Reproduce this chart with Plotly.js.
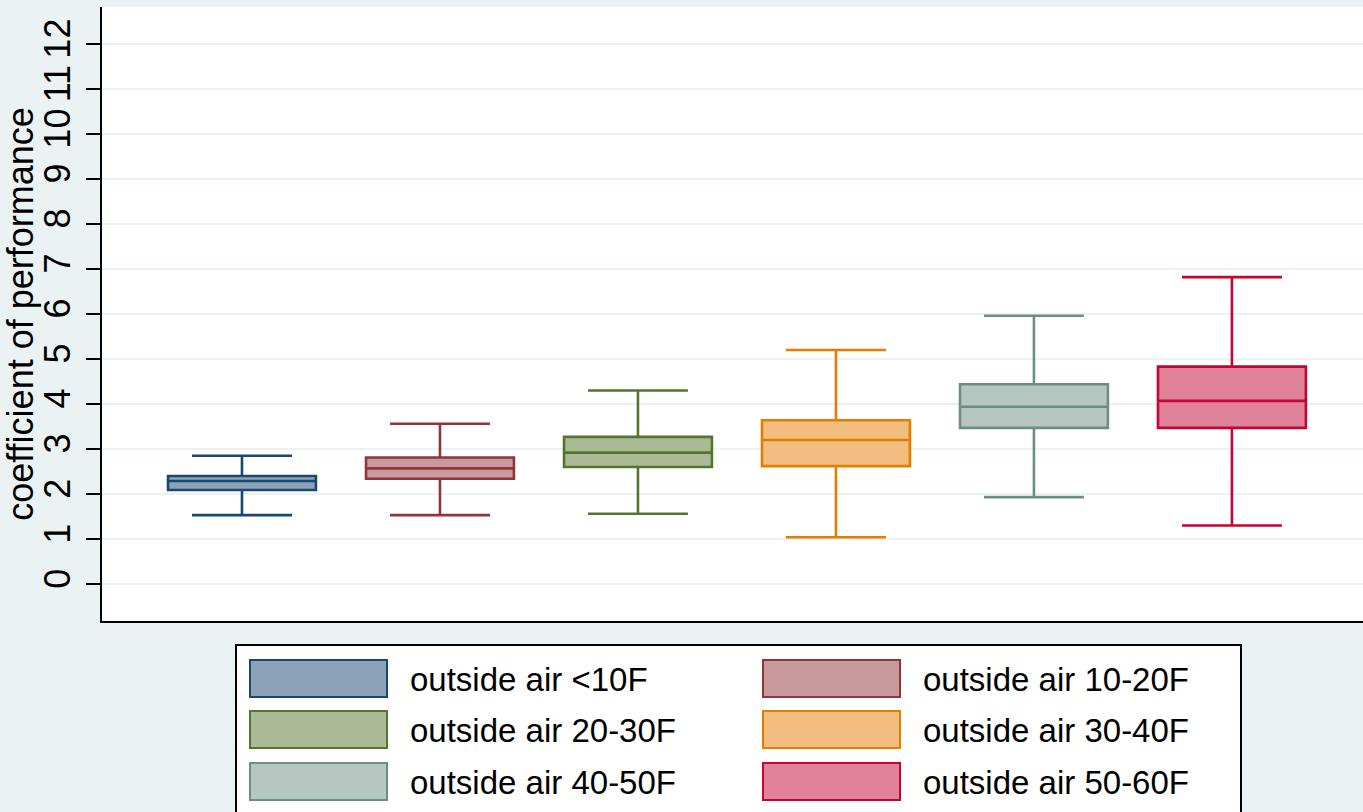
<!DOCTYPE html>
<html>
<head>
<meta charset="utf-8">
<script src="https://cdn.plot.ly/plotly-3.0.1.min.js"></script>
<style>html,body{margin:0;padding:0;background:#eaf2f3;}#chart{width:1363px;height:812px;}</style>
</head>
<body>
<div id="chart"></div>
<script>
// ---- data ----
const categories = ['outside air <10F', 'outside air 10-20F', 'outside air 20-30F',
                    'outside air 30-40F', 'outside air 40-50F', 'outside air 50-60F'];
const lowerWhisker = [1.53, 1.53, 1.56, 1.04, 1.93, 1.30];
const q1Values     = [2.09, 2.34, 2.60, 2.62, 3.47, 3.47];
const medianValues = [2.29, 2.57, 2.92, 3.20, 3.94, 4.07];
const q3Values     = [2.40, 2.81, 3.27, 3.64, 4.44, 4.83];
const upperWhisker = [2.85, 3.56, 4.30, 5.20, 5.96, 6.82];
const yTickValues  = [0,1,2,3,4,5,6,7,8,9,10,11,12];
const yTitle = 'coefficient of performance';

// ---- styles ----
const lineColors = ['#1a476f', '#90353b', '#55752f', '#e37e00', '#6e8e84', '#c10534'];
const fillColors = ['#8ca3b7', '#c89a9d', '#aaba97', '#f1be7f', '#b6c6c1', '#e08299'];
const FONT = 'Liberation Sans, Arial, sans-serif';

const W = 1363, H = 812;
const M = {l: 102, r: 0, t: 7, b: 191};
const plotW = W - M.l - M.r, plotH = H - M.t - M.b;
const px2x = p => (p - M.l) / plotW;
const px2y = p => (H - M.b - p) / plotH;

const traces = categories.map((name, i) => ({
  type: 'box',
  name: name,
  x: [i],
  q1: [q1Values[i]],
  median: [medianValues[i]],
  q3: [q3Values[i]],
  lowerfence: [lowerWhisker[i]],
  upperfence: [upperWhisker[i]],
  width: 0.747,
  whiskerwidth: 0.676,
  fillcolor: fillColors[i],
  line: {color: lineColors[i], width: 2.6},
  boxpoints: false,
  showlegend: false,
  hoverinfo: 'skip'
}));

// ---- custom legend (paper coordinates) ----
const shapes = [];
const annotations = [];
shapes.push({type: 'rect', xref: 'paper', yref: 'paper',
  x0: px2x(236), x1: px2x(1241), y0: px2y(645), y1: px2y(840),
  line: {color: '#000', width: 2}, fillcolor: '#ffffff', layer: 'above'});
const colSwatchX = [250, 763];
const colTextX = [408, 921];
const rowTop = [660, 711, 763];
const swH = 37, swW = 137;
categories.forEach((name, i) => {
  const col = i % 2, row = Math.floor(i / 2);
  const x0 = colSwatchX[col], y0 = rowTop[row];
  shapes.push({type: 'rect', xref: 'paper', yref: 'paper',
    x0: px2x(x0), x1: px2x(x0 + swW), y0: px2y(y0), y1: px2y(y0 + swH),
    line: {color: lineColors[i], width: 2}, fillcolor: fillColors[i], layer: 'above'});
  annotations.push({xref: 'paper', yref: 'paper', x: px2x(colTextX[col]), y: px2y(y0 + swH / 2 + 1),
    xanchor: 'left', yanchor: 'middle', text: name, showarrow: false,
    font: {family: FONT, size: 33, color: '#000'}});
});

const layout = {
  width: W, height: H,
  margin: M,
  paper_bgcolor: '#eaf2f3',
  plot_bgcolor: '#ffffff',
  showlegend: false,
  boxmode: 'overlay',
  font: {family: FONT, color: '#000'},
  xaxis: {
    range: [-0.707, 5.662],
    showgrid: false, zeroline: false, showticklabels: false, ticks: '',
    showline: true, linecolor: '#000', linewidth: 2, fixedrange: true
  },
  yaxis: {
    range: [-0.822, 12.822],
    tickvals: yTickValues,
    ticktext: yTickValues.map(String),
    tickangle: -90,
    ticks: 'outside', ticklen: 14, tickwidth: 2, tickcolor: '#000',
    tickfont: {family: FONT, size: 36, color: '#000'},
    ticklabelstandoff: 2,
    showline: true, linecolor: '#000', linewidth: 2,
    showgrid: true, gridcolor: '#eaf2f3', gridwidth: 2,
    zeroline: false,
    title: {text: yTitle, font: {family: FONT, size: 36, color: '#000'}, standoff: 2},
    automargin: false, fixedrange: true
  },
  shapes: shapes,
  annotations: annotations
};

Plotly.newPlot('chart', traces, layout, {staticPlot: true, displayModeBar: false});
</script>
</body>
</html>
